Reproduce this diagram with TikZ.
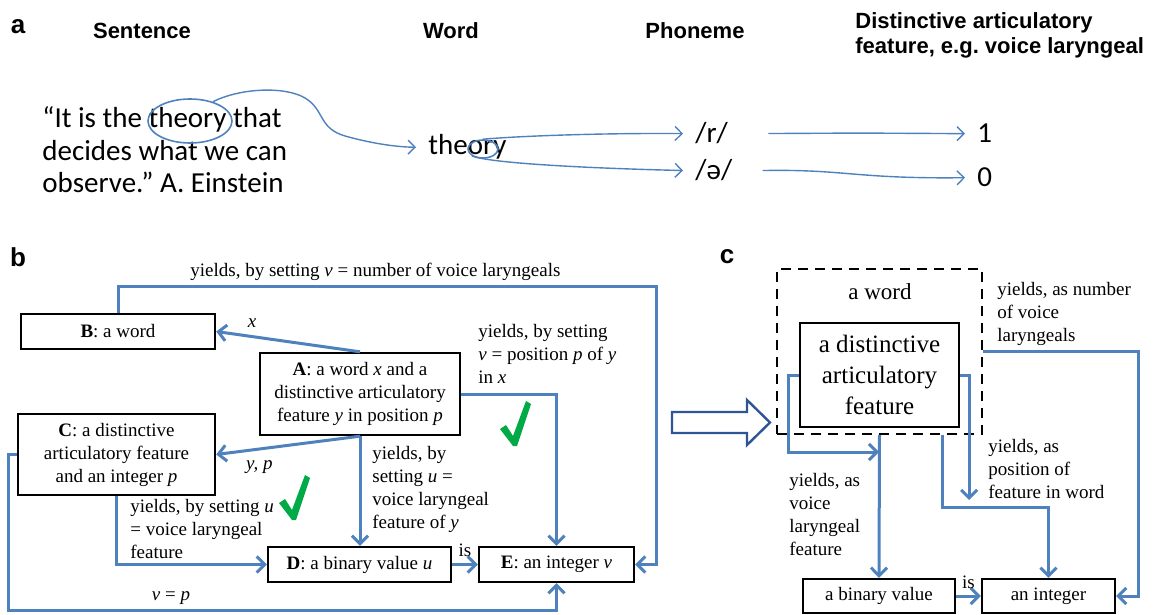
\documentclass[tikz,border=0pt]{standalone}
\usepackage{fontspec}
\setmainfont{Liberation Serif}
\newfontfamily\calib{Carlito}
\newfontfamily\arial{Liberation Sans}
\usetikzlibrary{arrows.meta,shapes.geometric}
\definecolor{lineblue}{RGB}{79,129,189}
\definecolor{arrowblue}{RGB}{47,85,151}
\definecolor{okgreen}{RGB}{0,170,70}
\newcommand\smallser{\fontsize{9.5}{11.5}\selectfont}
\newcommand\bigser{\fontsize{12.5}{15.5}\selectfont}
\newcommand\quotefont{\calib\fontsize{14.5}{16.25}\selectfont}
\frenchspacing

\begin{document}
\begin{tikzpicture}[x=0.5pt,y=-0.5pt,
    bx/.style={draw, line width=1.2pt, inner sep=0pt, align=center, font=\smallser},
    arr/.style={lineblue, line width=1.5pt, -{Straight Barb[length=4pt,width=8pt]}},
    farr/.style={lineblue, line width=0.7pt, -{Straight Barb[length=3.5pt,width=7pt]}},
    lab/.style={anchor=base west, align=left, inner sep=0pt, font=\smallser},
    onlab/.style={text=black, inner sep=0pt, font=\smallser},
    hdr/.style={inner sep=0pt, font=\arial\bfseries\fontsize{11}{12.5}\selectfont},
    tag/.style={inner sep=0pt, font=\arial\bfseries\fontsize{13}{15}\selectfont},
    wd/.style={anchor=base west, inner xsep=6pt, inner ysep=0pt, font=\quotefont},
    ring/.style={draw=lineblue, line width=0.8pt, ellipse, inner sep=0pt},
    chk/.pic={\fill[okgreen] (0,0) -- (-13,-17) -- (-7,-21) -- (0,-10) -- (13,-45) -- (18,-42) -- (4,0) -- cycle;}]
    \useasboundingbox (0,0) rectangle (1153,615);

    % a  (multi-line labels sit on their last baseline)
    \node[tag] (la) at (18,27) {a};
    \node[hdr] (h1) at (142,31) {Sentence};
    \node[hdr] (h2) at (451,31) {Word};
    \node[hdr] (h3) at (695,31) {Phoneme};
    \node[hdr, anchor=west, align=left] (h4) at (855,35) {Distinctive articulatory\\feature, e.g. voice laryngeal};

    \node[lab, font=\quotefont] (qt) at (42,193) {“It is the theory that\\decides what we can\\observe.” A. Einstein};
    \node[ring, minimum width=42pt, minimum height=22pt] (circ) at (190,121) {};
    \node[wd] (wrd) at (416,155) {theory};
    \node[ring, minimum width=15pt, minimum height=9pt] (loop) at (483,149) {};
    \node[wd] (r) at (683,143) {/r/};
    \node[wd] (schwa) at (683,180) {/ə/};
    \node[wd] (one) at (965,143) {1};
    \node[wd] (zero) at (965,187) {0};

    \draw[farr] (circ.40) .. controls (240,88) and (285,86) .. (305,98) .. controls (325,110) and (318,128) .. (345,136) .. controls (370,143) and (395,147) .. (wrd.west);
    \draw[farr] (loop.north) .. controls (520,136) and (600,133) .. (r.west);
    \draw[farr] (loop.south west) .. controls (490,163) and (580,168) .. (schwa.west);
    \draw[farr] ([xshift=14pt]r.east) .. controls (860,133) .. (one.west);
    \draw[farr] ([xshift=9pt]schwa.east) .. controls (845,169) and (855,179) .. (zero.west);

    % b
    \node[tag] (lb) at (18,257) {b};
    \node[bx, minimum width=97pt, minimum height=17.5pt] (B) at (118,331.5) {\textbf{B}: a word};
    \node[bx, minimum width=100pt, minimum height=41pt] (A) at (360,394) {\textbf{A}: a word \textit{x} and a\\distinctive articulatory\\feature \textit{y} in position \textit{p}};
    \node[bx, minimum width=98.5pt, minimum height=40.5pt] (C) at (116.5,454.5) {\textbf{C}: a distinctive\\articulatory feature\\and an integer \textit{p}};
    \node[bx, minimum width=91.5pt, minimum height=17.5pt] (D) at (359.5,564.5) {\textbf{D}: a binary value \textit{u}};
    \node[bx, minimum width=77.5pt, minimum height=17.5pt] (E) at (556.5,564.5) {\textbf{E}: an integer \textit{v}};

    \coordinate (tr) at (656,287);
    \coordinate (bl) at (8,610);
    \draw[arr] (B.north) |- (tr) |- (E.east);
    \draw[arr] (A.north) -- (B.east) node[onlab, pos=.75, above=4pt, font=\smallser\itshape] {x};
    \draw[arr] (A.south) -- (C.east) node[onlab, pos=.7, below=5pt, font=\smallser\itshape] {y, p};
    \draw[arr] (A.south) -- (A.south |- D.north);
    \draw[arr] (A.east) -| (E.north);
    \draw[arr] (C.south) |- (D.west);
    \draw[arr] (C.west) -| (bl) -| (E.south);
    \draw[arr] (D.east) -- (E.west) node[onlab, midway, above=3pt] {is};

    \node[lab] (t1) at (190,277) {yields, by setting \textit{v} = number of voice laryngeals};
    \node[lab] (t2) at (478,383) {yields, by setting\\\textit{v} = position \textit{p} of \textit{y}\\in \textit{x}};
    \node[lab] (t3) at (372,528) {yields, by\\setting \textit{u} =\\voice laryngeal\\feature of \textit{y}};
    \node[lab] (t4) at (130,558) {yields, by setting \textit{u}\\= voice laryngeal\\feature};
    \node[font=\smallser, inner sep=0pt] (t5) at (171,598) {\textit{v} = \textit{p}};
    \pic at (292,520) {chk};
    \pic at (513,446) {chk};

    % hollow arrow b => c
    \draw[arrowblue, line width=1.2pt] (672,412) -- (747,412) -- (747,400) -- (770,422.5) -- (747,445) -- (747,433) -- (672,433) -- cycle;

    % c
    \node[tag] (lc) at (727,257) {c};
    \node[draw, dash pattern=on 5pt off 3.5pt, line width=1pt, minimum width=102.5pt, minimum height=82.5pt, inner sep=0pt] (dsh) at (879.5,351.5) {};
    \node[font=\fontsize{11.5}{14}\selectfont, inner sep=0pt] (aw) at (880,292) {a word};
    \node[bx, font=\bigser, minimum width=79.5pt, minimum height=52pt] (inn) at (879.5,375) {a distinctive\\articulatory\\feature};
    \node[bx, minimum width=76pt, minimum height=17pt] (bin) at (879,596) {a binary value};
    \node[bx, minimum width=66.5pt, minimum height=17pt] (int) at (1048.5,596) {an integer};

    \coordinate (lj) at (879,452);
    \coordinate (pj) at (942,507);
    \draw[arr] (inn.west) -- ++(-10,0) |- (lj);
    \draw[arr] (dsh.south) -- (bin.north);
    \draw[arr] (inn.east) -- ++(9,0) -- ++(0,125);
    \draw[arr] (pj |- dsh.south) -- (pj) -| (int.north);
    \draw[arr] (dsh.east) -- ++(155,0) |- (int.east);
    \draw[arr] (bin.east) -- (int.west) node[onlab, midway, above=3pt] {is};

    \node[lab] (t6) at (997,342) {yields, as number\\of voice\\laryngeals};
    \node[lab] (t7) at (988,498) {yields, as\\position of\\feature in word};
    \node[lab] (t8) at (789,555) {yields, as\\voice\\laryngeal\\feature};

    \end{tikzpicture}
\end{document}
